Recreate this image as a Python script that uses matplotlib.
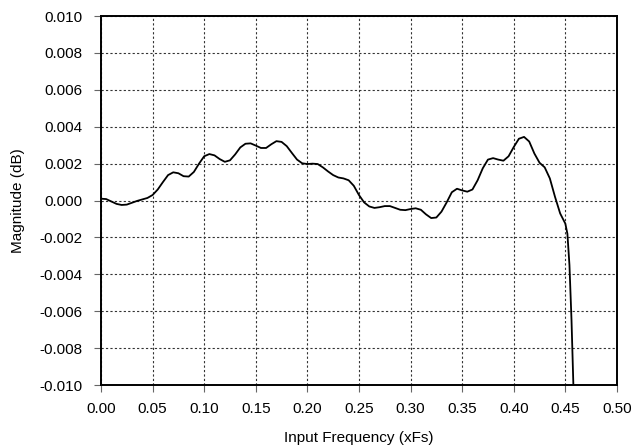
import matplotlib
matplotlib.use('agg')
import matplotlib.pyplot as plt
import numpy as np

# frequency response ripple
freq = [0.000, 0.005, 0.010, 0.015, 0.020, 0.025, 0.030, 0.035, 0.040, 0.045,
        0.050, 0.055, 0.060, 0.065, 0.070, 0.075, 0.080, 0.085, 0.090, 0.095,
        0.100, 0.105, 0.110, 0.115, 0.120, 0.125, 0.130, 0.135, 0.140, 0.145,
        0.150, 0.155, 0.160, 0.165, 0.170, 0.175, 0.180, 0.185, 0.190, 0.195,
        0.200, 0.205, 0.210, 0.215, 0.220, 0.225, 0.230, 0.235, 0.240, 0.245,
        0.250, 0.255, 0.260, 0.265, 0.270, 0.275, 0.280, 0.285, 0.290, 0.295,
        0.300, 0.305, 0.310, 0.315, 0.320, 0.325, 0.330, 0.335, 0.340, 0.345,
        0.350, 0.355, 0.360, 0.365, 0.370, 0.375, 0.380, 0.385, 0.390, 0.395,
        0.400, 0.405, 0.410, 0.415, 0.420, 0.425, 0.430, 0.435, 0.440, 0.445,
        0.450, 0.452, 0.454, 0.456, 0.4578]
mag = [0.00010, 0.00008, -0.00005, -0.00018, -0.00024, -0.00022, -0.00012, -0.00002, 0.00006, 0.00014,
       0.00030, 0.00060, 0.00100, 0.00138, 0.00153, 0.00148, 0.00132, 0.00130, 0.00155, 0.00200,
       0.00240, 0.00252, 0.00245, 0.00225, 0.00210, 0.00218, 0.00250, 0.00288, 0.00308, 0.00310,
       0.00298, 0.00285, 0.00285, 0.00305, 0.00322, 0.00318, 0.00295, 0.00258, 0.00222, 0.00202,
       0.00198, 0.00200, 0.00198, 0.00180, 0.00158, 0.00138, 0.00125, 0.00120, 0.00110, 0.00080,
       0.00030, -0.00010, -0.00032, -0.00040, -0.00036, -0.00030, -0.00030, -0.00040, -0.00050, -0.00052,
       -0.00046, -0.00042, -0.00050, -0.00075, -0.00095, -0.00092, -0.00060, -0.00010, 0.00045, 0.00064,
       0.00055, 0.00048, 0.00060, 0.00110, 0.00175, 0.00222, 0.00230, 0.00222, 0.00216, 0.00240,
       0.00290, 0.00335, 0.00345, 0.00320, 0.00255, 0.00205, 0.00180, 0.00120, 0.00020, -0.00070,
       -0.00125, -0.00180, -0.00350, -0.00650, -0.01000]

x_ticks = np.arange(0, 0.51, 0.05)
y_ticks = np.arange(-0.010, 0.0101, 0.002)

plt.rcParams['font.family'] = ['Liberation Sans', 'DejaVu Sans']

fig = plt.figure(figsize=(6.36, 4.47), dpi=100)
ax = fig.add_axes([0.1588, 0.1387, 0.8112, 0.8253])

ax.plot(freq, mag, color='black', linewidth=1.3, solid_joinstyle='round')

ax.set_xlim(0, 0.5)
ax.set_ylim(-0.010, 0.010)
ax.set_xticks(x_ticks)
ax.set_yticks(y_ticks)
ax.set_xticklabels(['%.2f' % v for v in x_ticks], fontsize=11)
ax.set_yticklabels(['%.3f' % v for v in y_ticks], fontsize=11)
ax.tick_params(axis='y', direction='out', length=5, width=0.8, color='#666666', pad=8)
ax.tick_params(axis='x', direction='out', length=5, width=0.8, color='#666666', pad=7)

ax.grid(True, color='#333333', linestyle=(0, (2, 2)), linewidth=0.8)

for spine in ax.spines.values():
    spine.set_linewidth(1.4)
    spine.set_color('black')

ax.set_xlabel('Input Frequency (xFs)', fontsize=11, labelpad=11)
ax.set_ylabel('Magnitude (dB)', fontsize=11, labelpad=11)

fig.savefig('out.png', dpi=100)
